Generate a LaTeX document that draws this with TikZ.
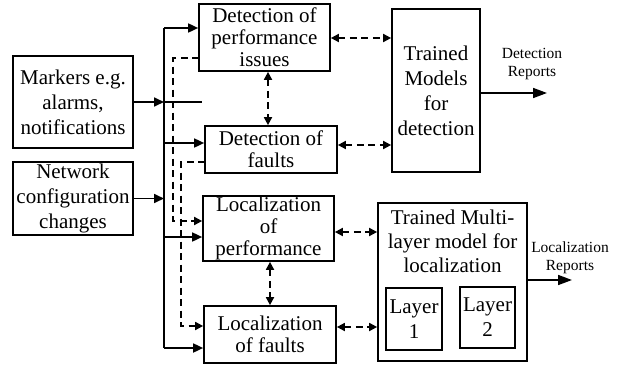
\documentclass[tikz,border=0pt]{standalone}
\usepackage{fontspec}
\setmainfont{Liberation Serif}
\usetikzlibrary{arrows.meta}
\begin{document}
\begin{tikzpicture}[x=1pt,y=-1pt,
  box/.style={draw,line width=1.7pt,rectangle,inner sep=0pt,align=center,font=\fontsize{21}{22}\selectfont},
  bigbox/.style={box,font=\fontsize{21}{25}\selectfont},
  txt/.style={inner sep=0pt,align=center,font=\fontsize{21}{24}\selectfont},
  small/.style={inner sep=0pt,align=center,font=\fontsize{15.5}{18}\selectfont},
  arr/.style={line width=1.7pt,-{Triangle[length=10pt,width=9pt]}},
  oarr/.style={line width=1.7pt,-{Triangle[length=14pt,width=10pt]}},
  ln/.style={line width=1.7pt},
  darr/.style={line width=1.7pt,dash pattern=on 7pt off 4.5pt,{Triangle[length=8pt,width=8pt]}-{Triangle[length=8pt,width=8pt]}},
  dline/.style={line width=1.7pt,dash pattern=on 7pt off 4.5pt,-{Triangle[length=8pt,width=8pt]}}
]
\useasboundingbox (0,0) rectangle (623,369);
% boxes
\node[bigbox,minimum width=120pt,minimum height=92pt] (mark) at (73,102) {Markers e.g.\\alarms,\\notifications};
\node[bigbox,minimum width=120pt,minimum height=73pt] (net) at (73,198.5) {Network\\configuration\\changes};
\node[box,minimum width=131pt,minimum height=67pt] (dperf) at (264.5,37.5) {Detection of\\performance\\issues};
\node[box,minimum width=132pt,minimum height=47pt] (dfault) at (271,149.5) {Detection of\\faults};
\node[box,minimum width=131pt,minimum height=65pt] (lperf) at (268.5,228.5) {Localization\\of\\performance};
\node[box,minimum width=132pt,minimum height=57pt] (lfault) at (270,334.5) {Localization\\of faults};
\node[bigbox,minimum width=88pt,minimum height=163pt] (tm) at (436,90.5) {Trained\\Models\\for\\detection};
\node[box,minimum width=149pt,minimum height=158pt] (ml) at (452.5,282) {};
\node[txt] (mltxt) at (452.5,241) {Trained Multi-\\layer model for\\localization};
\node[box,font=\fontsize{21}{25}\selectfont,minimum width=56pt,minimum height=62pt] (l1) at (414,319) {Layer\\1};
\node[box,font=\fontsize{21}{25}\selectfont,minimum width=55pt,minimum height=61pt] (l2) at (487.5,317.5) {Layer\\2};
% bus
\coordinate (bt) at (164,28);
\coordinate (bb) at (164,348);
\coordinate (bm) at (164,102);
\coordinate (bn) at (164,198.5);
\coordinate (bf) at (164,143);
\coordinate (bp) at (164,237);
\coordinate (stub) at (202,102);
\draw[ln] (bt) -- (bb);
\draw[arr] (bt) -- (dperf.west |- bt);
\draw[arr] (mark.east |- bm) -- (bm);
\draw[ln] (bm) -- (stub);
\draw[arr] (bf) -- (dfault.west |- bf);
\draw[arr] (net.east |- bn) -- (bn);
\draw[arr] (bp) -- (lperf.west |- bp);
\draw[arr] (bb) -- (lfault.west |- bb);
% dashed feedback
\coordinate (d1a) at (199,58);
\coordinate (d1b) at (173,58);
\coordinate (d1c) at (173,221);
\coordinate (d2a) at (205,162);
\coordinate (d2b) at (181,162);
\coordinate (d2c) at (181,326);
\draw[dline] (d1a) -- (d1b) -- (d1c) -- (lperf.west |- d1c);
\draw[dline] (d2a) -- (d2b) -- (d2c) -- (lfault.west |- d2c);
% vertical double arrows
\coordinate (v1) at (268,0);
\coordinate (v2) at (270,0);
\draw[darr] (dperf.south -| v1) -- (dfault.north -| v1);
\draw[darr] (lperf.south -| v2) -- (lfault.north -| v2);
% horizontal double arrows
\coordinate (h1) at (0,38);
\coordinate (h2) at (0,145);
\coordinate (h3) at (0,232);
\coordinate (h4) at (0,327);
\draw[darr] (dperf.east |- h1) -- (tm.west |- h1);
\draw[darr] (dfault.east |- h2) -- (tm.west |- h2);
\draw[darr] (lperf.east |- h3) -- (ml.west |- h3);
\draw[darr] (lfault.east |- h4) -- (ml.west |- h4);
% outputs
\coordinate (o1) at (547,93);
\coordinate (o2) at (572,280);
\draw[oarr] (tm.east |- o1) -- (o1);
\draw[oarr] (ml.east |- o2) -- (o2);
\node[small] (r1) at (532,64) {Detection\\Reports};
\node[small] (r2) at (570,258) {Localization\\Reports};
\end{tikzpicture}
\end{document}
